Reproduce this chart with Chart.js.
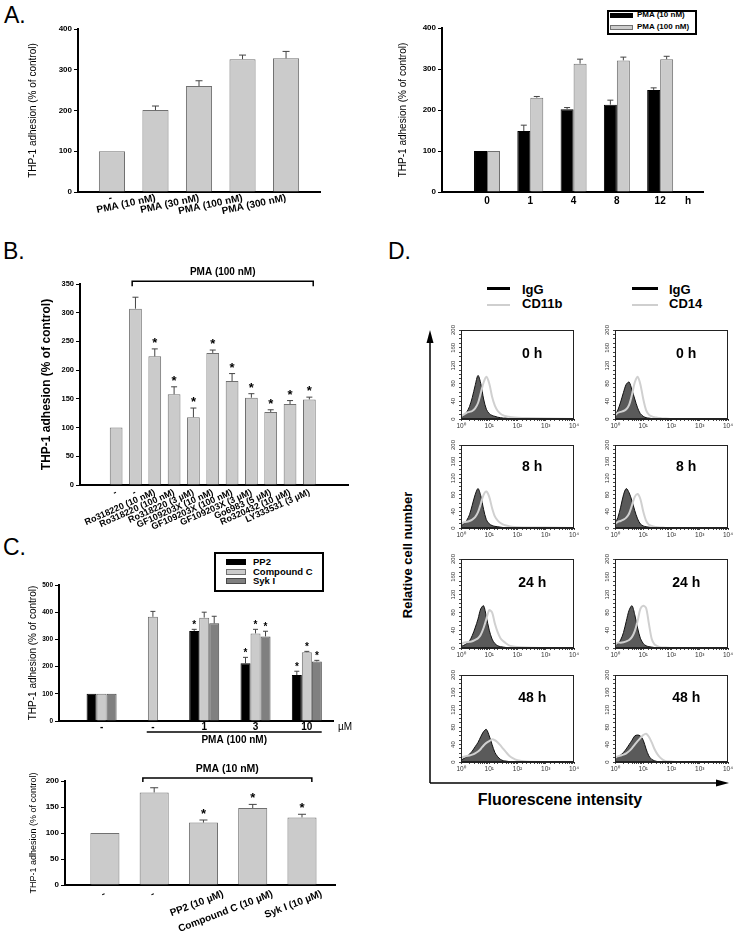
<!DOCTYPE html>
<html><head><meta charset="utf-8">
<script src="https://cdn.jsdelivr.net/npm/chart.js@4.4.1/dist/chart.umd.min.js"></script>
<style>
body{margin:0;background:#fff;}
#page{position:relative;width:737px;height:946px;overflow:hidden;background:#fff;font-family:"Liberation Sans",Arial,sans-serif;color:#000;}
canvas{position:absolute;}
.t{position:absolute;white-space:nowrap;line-height:1;}
</style></head>
<body><div id="page">
<div class="t" style="left:4px;top:3.5px;font-size:23px;">A.</div>
<div class="t" style="left:3px;top:239.5px;font-size:23px;">B.</div>
<div class="t" style="left:3px;top:535.5px;font-size:23px;">C.</div>
<div class="t" style="left:388px;top:239.5px;font-size:23px;">D.</div>

<div style="position:absolute;left:487px;top:287px;width:23px;height:2.5px;background:#000"></div>
<div class="t" style="left:522px;top:282.5px;font-size:13px;font-weight:bold;">IgG</div>
<div style="position:absolute;left:487px;top:303.5px;width:23px;height:2.5px;background:#cfcfcf"></div>
<div class="t" style="left:522px;top:297px;font-size:13px;font-weight:bold;">CD11b</div>
<div style="position:absolute;left:632px;top:287px;width:26px;height:2.5px;background:#000"></div>
<div class="t" style="left:669px;top:282.5px;font-size:13px;font-weight:bold;">IgG</div>
<div style="position:absolute;left:632px;top:303.5px;width:26px;height:2.5px;background:#cfcfcf"></div>
<div class="t" style="left:669px;top:297px;font-size:13px;font-weight:bold;">CD14</div>

<svg style="position:absolute;left:0;top:0" width="737" height="946">
 <line x1="430" y1="340" x2="430" y2="783" stroke="#000" stroke-width="1.5"/>
 <polygon points="430,330 426.5,343 433.5,343" fill="#000"/>
 <line x1="430" y1="783" x2="718" y2="783" stroke="#000" stroke-width="1.5"/>
 <polygon points="729,783 716,779.5 716,786.5" fill="#000"/>
</svg>
<div class="t" style="left:407px;top:555px;font-size:13px;font-weight:bold;transform:translate(-50%,-50%) rotate(-90deg);">Relative cell number</div>
<div class="t" style="left:560px;top:800px;font-size:16px;font-weight:bold;transform:translate(-50%,-50%);">Fluorescene intensity</div>
</div>
<script>
// ---------------- DATA ----------------
// A (left): dose response
const aDoseLabels = ['-', 'PMA (10 nM)', 'PMA (30 nM)', 'PMA (100 nM)', 'PMA (300 nM)'];
const aDoseValues = [100, 201, 260, 326, 328];
const aDoseErrors = [0, 10, 13, 10, 17];

// A (right): time course
const aTimeLabels = ['0', '1', '4', '8', '12'];
const aTimePma10 = [100, 149, 202, 213, 249];
const aTimePma10Err = [0, 14, 4, 11, 5];
const aTimePma100 = [100, 230, 313, 321, 324];
const aTimePma100Err = [0, 3, 11, 8, 7];

// B: PKC inhibitors
const bLabels = ['-', '-', 'Ro318220 (10 nM)', 'Ro318220 (100 nM)', 'Ro318220 (3 \u00b5M)',
  'GF109203X (10 nM)', 'GF109203X (100 nM)', 'GF109203X (3 \u00b5M)', 'Go6983 (5 \u00b5M)',
  'Ro320432 (10 \u00b5M)', 'LY333531 (3 \u00b5M)'];
const bValues = [100, 307, 224, 158, 118, 230, 181, 152, 127, 141, 149];
const bErrors = [0, 20, 13, 13, 16, 5, 13, 7, 4, 6, 4];
const bStars = [0, 0, 1, 1, 1, 1, 1, 1, 1, 1, 1];

// C (top): PP2 / Compound C / Syk I with PMA 100 nM
const cTopLabels = ['-', '-', '1', '3', '10'];
const cPP2 = [100, null, 331, 212, 169];
const cPP2Err = [0, 0, 6, 22, 14];
const cPP2Stars = [0, 0, 1, 1, 1];
const cCompC = [100, 383, 380, 322, 253];
const cCompCErr = [0, 20, 20, 15, 3];
const cCompCStars = [0, 0, 0, 1, 1];
const cSyk = [100, null, 359, 311, 219];
const cSykErr = [0, 0, 26, 19, 4];
const cSykStars = [0, 0, 0, 1, 1];

// C (bottom): PMA 10 nM
const cBotLabels = ['-', '-', 'PP2 (10 \u00b5M)', 'Compound C (10 \u00b5M)', 'Syk I (10 \u00b5M)'];
const cBotValues = [100, 178, 120, 148, 130];
const cBotErrors = [0, 9, 5, 7, 6];
const cBotStars = [0, 0, 1, 1, 1];

// D: flow cytometry histograms (fluorescence grid, counts)
const hX = [1, 1.26, 1.58, 2, 2.5, 3.16, 4, 5, 6.3, 7.9, 10, 12.6, 15.8, 20, 25, 31.6, 40, 50, 63, 100, 200, 1000, 10000];
const igg11b_0h = [4, 8, 15, 28, 48, 75, 98, 80, 45, 22, 12, 8, 6, 4, 3, 2, 2, 1, 1, 0, 0, 0, 0];
const cd11b_0h  = [6, 10, 14, 16, 18, 24, 36, 58, 82, 95, 80, 50, 30, 18, 12, 8, 6, 5, 4, 3, 2, 1, 0];
const igg14_0h  = [8, 20, 38, 60, 78, 83, 65, 45, 25, 12, 6, 3, 2, 1, 1, 0, 0, 0, 0, 0, 0, 0, 0];
const cd14_0h   = [8, 14, 16, 18, 22, 32, 55, 82, 95, 78, 45, 20, 10, 6, 4, 3, 2, 1, 1, 0, 0, 0, 0];
const igg11b_8h = [6, 10, 18, 32, 55, 80, 95, 78, 45, 20, 10, 6, 4, 3, 2, 1, 1, 0, 0, 0, 0, 0, 0];
const cd11b_8h  = [10, 14, 15, 17, 20, 26, 38, 58, 80, 88, 75, 48, 28, 18, 12, 8, 6, 4, 3, 2, 1, 1, 0];
const igg14_8h  = [10, 25, 50, 80, 95, 85, 65, 42, 22, 10, 5, 3, 2, 1, 0, 0, 0, 0, 0, 0, 0, 0, 0];
const cd14_8h   = [10, 15, 17, 20, 25, 35, 55, 75, 82, 70, 40, 18, 8, 5, 3, 2, 1, 1, 0, 0, 0, 0, 0];
const igg11b_24h = [4, 6, 10, 16, 28, 45, 65, 88, 95, 70, 40, 20, 10, 5, 3, 2, 1, 1, 0, 0, 0, 0, 0];
const cd11b_24h  = [8, 12, 13, 14, 15, 18, 22, 30, 45, 65, 85, 80, 55, 35, 22, 15, 10, 6, 4, 2, 1, 0, 0];
const igg14_24h  = [6, 10, 18, 35, 60, 85, 95, 75, 45, 22, 10, 5, 3, 2, 1, 0, 0, 0, 0, 0, 0, 0, 0];
const cd14_24h   = [8, 12, 12, 13, 15, 18, 25, 38, 60, 88, 95, 90, 55, 20, 8, 4, 2, 1, 1, 0, 0, 0, 0];
const igg11b_48h = [4, 8, 12, 18, 25, 35, 45, 58, 70, 75, 60, 40, 22, 12, 6, 3, 2, 1, 1, 0, 0, 0, 0];
const cd11b_48h  = [10, 12, 14, 15, 17, 20, 24, 30, 38, 44, 48, 52, 50, 45, 38, 30, 22, 15, 10, 4, 1, 0, 0];
const igg14_48h  = [8, 12, 16, 22, 30, 40, 50, 60, 62, 60, 50, 30, 14, 6, 3, 1, 1, 0, 0, 0, 0, 0, 0];
const cd14_48h   = [10, 13, 15, 17, 20, 25, 32, 40, 48, 55, 62, 65, 58, 45, 30, 18, 10, 5, 2, 1, 0, 0, 0];
const timeLabels = ['0 h', '8 h', '24 h', '48 h'];

// ---------------- SETUP ----------------
const FAM = '"Liberation Sans", Arial, sans-serif';
Chart.defaults.font.family = FAM;
Chart.defaults.color = '#000';
Chart.defaults.animation = false;
Chart.defaults.plugins.legend.display = false;
Chart.defaults.plugins.tooltip.enabled = false;
const page = document.getElementById('page');

function mkCanvas(x, y, w, h) {
  const c = document.createElement('canvas');
  c.width = w; c.height = h;
  Object.assign(c.style, {left: x + 'px', top: y + 'px', width: w + 'px', height: h + 'px'});
  page.appendChild(c);
  return c;
}

const errorBars = {
  id: 'errorBars',
  afterDatasetsDraw(chart, args, o) {
    const ctx = chart.ctx, ys = chart.scales.y;
    chart.data.datasets.forEach((ds, di) => {
      const meta = chart.getDatasetMeta(di);
      meta.data.forEach((bar, i) => {
        const v = ds.data[i].y;
        if (v == null) return;
        const e = ds.errors ? ds.errors[i] : 0;
        const top = ys.getPixelForValue(v + (e || 0));
        ctx.save();
        if (e) {
          ctx.strokeStyle = '#444'; ctx.lineWidth = 1;
          ctx.beginPath();
          ctx.moveTo(bar.x, bar.y); ctx.lineTo(bar.x, top);
          ctx.moveTo(bar.x - o.cap, top); ctx.lineTo(bar.x + o.cap, top);
          ctx.stroke();
        }
        if (ds.stars && ds.stars[i]) {
          ctx.fillStyle = '#000';
          ctx.font = 'bold ' + o.star + 'px ' + FAM;
          ctx.textAlign = 'center'; ctx.textBaseline = 'alphabetic';
          ctx.fillText('*', bar.x, top - o.starGap);
        }
        ctx.restore();
      });
    });
  }
};

const bracket = {
  id: 'bracket',
  afterDraw(chart, args, o) {
    if (!o || !o.text) return;
    const ctx = chart.ctx, xs = chart.scales.x, ys = chart.scales.y;
    const x1 = xs.getPixelForValue(o.from), x2 = xs.getPixelForValue(o.to);
    const y = ys.getPixelForValue(o.at);
    ctx.save();
    ctx.strokeStyle = '#000'; ctx.lineWidth = 1.5;
    ctx.beginPath();
    ctx.moveTo(x1, y + o.tick); ctx.lineTo(x1, y); ctx.lineTo(x2, y); ctx.lineTo(x2, y + o.tick);
    ctx.stroke();
    ctx.fillStyle = '#000'; ctx.font = 'bold ' + o.size + 'px ' + FAM;
    ctx.textAlign = 'center'; ctx.textBaseline = 'bottom';
    ctx.fillText(o.text, (x1 + x2) / 2, y - o.gap);
    ctx.restore();
  }
};

const underLine = {
  id: 'underLine',
  afterDraw(chart, args, o) {
    if (!o || !o.text) return;
    const ctx = chart.ctx, xs = chart.scales.x;
    const x1 = xs.getPixelForValue(o.from), x2 = xs.getPixelForValue(o.to);
    const y = chart.chartArea.bottom + o.dy;
    ctx.save();
    ctx.strokeStyle = '#000'; ctx.lineWidth = 1.5;
    ctx.beginPath(); ctx.moveTo(x1, y); ctx.lineTo(x2, y); ctx.stroke();
    ctx.fillStyle = '#000'; ctx.font = 'bold ' + o.size + 'px ' + FAM;
    ctx.textAlign = 'center'; ctx.textBaseline = 'top';
    ctx.fillText(o.text, (x1 + x2) / 2, y + o.gap);
    ctx.restore();
  }
};

const unitLabel = {
  id: 'unitLabel',
  afterDraw(chart, args, o) {
    if (!o || !o.text) return;
    const ctx = chart.ctx, ca = chart.chartArea;
    ctx.save();
    ctx.fillStyle = '#000'; ctx.font = o.font;
    ctx.textAlign = 'center'; ctx.textBaseline = 'middle';
    ctx.fillText(o.text, ca.right + o.dx, ca.bottom + o.dy);
    ctx.restore();
  }
};

function barChart(p) {
  const c = mkCanvas(p.box.x, p.box.y, p.box.w, p.box.h);
  const shiftFrom = p.shiftFrom == null ? 99 : p.shiftFrom;
  return new Chart(c, {
    type: 'bar',
    data: {
      datasets: p.datasets.map(d => ({
        label: d.label,
        data: d.values.map((v, i) => ({x: i, y: v})),
        errors: d.errors, stars: d.stars,
        backgroundColor: d.color, borderColor: d.border, borderWidth: 1,
        barPercentage: p.barPct, categoryPercentage: p.catPct
      }))
    },
    options: {
      responsive: false, devicePixelRatio: 1,
      layout: {padding: {left: 0, top: p.area.t - p.box.y, right: p.box.x + p.box.w - p.area.r, bottom: 0}},
      scales: {
        x: {
          type: 'linear', min: p.xMin, max: p.xMax, offset: false,
          afterFit: s => { s.height = p.box.y + p.box.h - p.area.b; },
          afterBuildTicks: s => { s.ticks = p.labels.map((_, i) => ({value: i + (i >= shiftFrom ? p.shift : 0)})); },
          grid: {display: false, drawTicks: false, offset: false},
          border: {display: true, color: '#000', width: 2},
          ticks: {autoSkip: false, minRotation: p.rot, maxRotation: p.rot, font: p.xFont, padding: p.xPad,
                  callback: (v, idx) => p.labels[idx]}
        },
        y: {
          min: 0, max: p.yMax,
          afterFit: s => { s.width = p.area.l - p.box.x; },
          ticks: {stepSize: p.yStep, font: p.yFont, padding: 2},
          grid: {display: true, drawOnChartArea: false, drawTicks: true, tickLength: 4, color: '#000', lineWidth: 1},
          border: {display: true, color: '#000', width: 2},
          title: {display: true, text: 'THP-1 adhesion (% of control)', font: p.titleFont, padding: {top: 0, bottom: 0}}
        }
      },
      plugins: {
        errorBars: p.err,
        bracket: p.bracket || {},
        underLine: p.under || {},
        unitLabel: p.unit || {}
      }
    },
    plugins: [errorBars, bracket, underLine, unitLabel]
  });
}

function boxLegend(chart, b) {
  const d = document.createElement('div');
  Object.assign(d.style, {position: 'absolute', left: b.x + 'px', top: b.y + 'px', width: b.w + 'px', height: b.h + 'px',
    border: '2px solid #000', boxSizing: 'border-box', background: '#fff'});
  chart.data.datasets.forEach((ds, i) => {
    const cy = b.rows[i] - b.y - 2;
    const sw = document.createElement('div');
    Object.assign(sw.style, {position: 'absolute', left: (b.sx - b.x - 2) + 'px', top: (cy - b.sh / 2) + 'px',
      width: b.sw + 'px', height: b.sh + 'px', background: ds.backgroundColor, border: '1px solid ' + ds.borderColor, boxSizing: 'border-box'});
    const t = document.createElement('div');
    Object.assign(t.style, {position: 'absolute', left: (b.tx - b.x - 2) + 'px', top: (cy - b.fs * 0.6) + 'px',
      font: 'bold ' + b.fs + 'px ' + FAM, lineHeight: (b.fs * 1.2) + 'px', whiteSpace: 'nowrap'});
    t.textContent = ds.label;
    d.append(sw, t);
  });
  page.appendChild(d);
}

const GRAY = '#cbcbcb', GRAYB = '#707070';

// ---------- A left ----------
barChart({
  box: {x: 27, y: 0, w: 303, h: 240}, area: {l: 78, t: 29, r: 320, b: 192},
  labels: aDoseLabels, xMin: -0.78, xMax: 4.78, rot: 12, xPad: 0,
  xFont: {size: 10, weight: 'bold'}, yFont: {size: 8, weight: 'bold'},
  titleFont: {size: 10}, yMax: 400, yStep: 100, barPct: 0.6, catPct: 1,
  datasets: [{label: 'PMA', values: aDoseValues, errors: aDoseErrors, color: GRAY, border: GRAYB}],
  err: {cap: 3.5, star: 13, starGap: 2}
});

// ---------- A right ----------
const aRight = barChart({
  box: {x: 397, y: 0, w: 316, h: 240}, area: {l: 442, t: 28, r: 703, b: 192},
  labels: aTimeLabels, xMin: -1.04, xMax: 4.99, rot: 0, xPad: 3,
  xFont: {size: 10, weight: 'bold'}, yFont: {size: 8, weight: 'bold'},
  titleFont: {size: 10}, yMax: 400, yStep: 100, barPct: 1, catPct: 0.6,
  datasets: [
    {label: 'PMA (10 nM)', values: aTimePma10, errors: aTimePma10Err, color: '#000', border: '#000'},
    {label: 'PMA (100 nM)', values: aTimePma100, errors: aTimePma100Err, color: GRAY, border: GRAYB}
  ],
  err: {cap: 3, star: 13, starGap: 2},
  unit: {text: 'h', font: 'bold 10px ' + FAM, dx: -15, dy: 9}
});
boxLegend(aRight, {x: 607, y: 10, w: 90, h: 25, rows: [15, 27], sx: 610, sw: 23, sh: 5, tx: 637, fs: 8});

// ---------- B ----------
barChart({
  box: {x: 39, y: 262, w: 319, h: 283}, area: {l: 80, t: 284, r: 348, b: 485},
  labels: bLabels, xMin: -1.87, xMax: 12.0, rot: 24, xPad: 2,
  xFont: {size: 9, weight: 'bold'}, yFont: {size: 7.5, weight: 'bold'},
  titleFont: {size: 12, weight: 'bold'}, yMax: 350, yStep: 50, barPct: 0.66, catPct: 1,
  datasets: [{label: 'PMA', values: bValues, errors: bErrors, stars: bStars, color: GRAY, border: GRAYB}],
  err: {cap: 3, star: 13, starGap: 2},
  bracket: {text: 'PMA (100 nM)', from: 0.83, to: 10.2, at: 355, tick: 5, gap: 4, size: 10}
});

// ---------- C top ----------
const cTop = barChart({
  box: {x: 27, y: 540, w: 331, h: 210}, area: {l: 59, t: 585, r: 333, b: 721},
  labels: cTopLabels, xMin: -0.83, xMax: 4.51, rot: 0, xPad: 0,
  xFont: {size: 10, weight: 'bold'}, yFont: {size: 6.5, weight: 'bold'},
  titleFont: {size: 10}, yMax: 500, yStep: 100, barPct: 1, catPct: 0.585,
  datasets: [
    {label: 'PP2', values: cPP2, errors: cPP2Err, stars: cPP2Stars, color: '#000', border: '#000'},
    {label: 'Compound C', values: cCompC, errors: cCompCErr, stars: cCompCStars, color: GRAY, border: GRAYB},
    {label: 'Syk I', values: cSyk, errors: cSykErr, stars: cSykStars, color: '#808080', border: '#4a4a4a'}
  ],
  err: {cap: 2.5, star: 10, starGap: 1},
  under: {text: 'PMA (100 nM)', from: 0.88, to: 4.29, dy: 11, gap: 3, size: 10},
  unit: {text: '\u00b5M', font: '10px ' + FAM, dx: 12, dy: 6}
});
boxLegend(cTop, {x: 214, y: 552, w: 110, h: 40, rows: [561.7, 571.7, 581], sx: 226, sw: 20, sh: 6, tx: 253, fs: 9.5});

// ---------- C bottom ----------
barChart({
  box: {x: 28, y: 755, w: 317, h: 191}, area: {l: 65, t: 781, r: 335, b: 885},
  labels: cBotLabels, xMin: -0.81, xMax: 4.67, rot: 21, xPad: 3, shiftFrom: 2, shift: 0.4,
  xFont: {size: 10, weight: 'bold'}, yFont: {size: 8, weight: 'bold'},
  titleFont: {size: 9}, yMax: 200, yStep: 50, barPct: 0.59, catPct: 1,
  datasets: [{label: 'PMA', values: cBotValues, errors: cBotErrors, stars: cBotStars, color: GRAY, border: GRAYB}],
  err: {cap: 4, star: 13, starGap: 2},
  bracket: {text: 'PMA (10 nM)', from: 0.77, to: 4.2, at: 206, tick: 4, gap: 4, size: 10.5}
});

// ---------- D histograms ----------
const frame = {
  id: 'frame',
  afterDraw(chart, args, o) {
    const ctx = chart.ctx, ca = chart.chartArea;
    ctx.save();
    ctx.strokeStyle = '#222'; ctx.lineWidth = 1;
    ctx.strokeRect(ca.left + 0.5, ca.top + 0.5, ca.right - ca.left - 1, ca.bottom - ca.top - 1);
    if (o && o.text) {
      ctx.fillStyle = '#000'; ctx.font = 'bold 14px ' + FAM;
      ctx.textAlign = 'center'; ctx.textBaseline = 'middle';
      ctx.fillText(o.text, ca.left + 0.63 * (ca.right - ca.left), ca.top + 0.27 * (ca.bottom - ca.top));
    }
    ctx.restore();
  }
};
const SUP = ['\u2070', '\u00b9', '\u00b2', '\u00b3', '\u2074'];
function histChart(area, igg, cd, label) {
  const box = {x: area.l - 24, y: area.t - 5, w: area.r - area.l + 34, h: area.b - area.t + 21};
  const c = mkCanvas(box.x, box.y, box.w, box.h);
  return new Chart(c, {
    type: 'line',
    data: {datasets: [
      {label: 'CD', data: hX.map((x, i) => ({x, y: cd[i]})), borderColor: '#d0d0d0', borderWidth: 2,
       pointRadius: 0, fill: false, tension: 0.3, order: 0},
      {label: 'IgG', data: hX.map((x, i) => ({x, y: igg[i]})), borderColor: '#111', borderWidth: 1,
       backgroundColor: '#5a5a5a', fill: 'origin', pointRadius: 0, tension: 0.3, order: 1}
    ]},
    options: {
      responsive: false, devicePixelRatio: 1,
      layout: {padding: {left: 0, top: 5, right: 10, bottom: 0}},
      scales: {
        x: {type: 'logarithmic', min: 1, max: 10000,
            afterFit: s => { s.height = 16; },
            ticks: {autoSkip: false, minRotation: 0, maxRotation: 0, font: {size: 6.5}, color: '#333', padding: 1,
                    callback: v => { const e = Math.log10(v); return Math.abs(e - Math.round(e)) < 1e-6 ? '10' + SUP[Math.round(e)] : ''; }},
            grid: {display: true, drawOnChartArea: false, tickLength: 2, color: '#444'},
            border: {display: true, color: '#222', width: 1}},
        y: {min: 0, max: 200,
            afterFit: s => { s.width = 24; },
            ticks: {stepSize: 10, autoSkip: false, minRotation: 90, maxRotation: 90, crossAlign: 'center', font: {size: 6}, color: '#333', padding: 1,
                    callback: v => (v % 40 === 0 ? String(v) : '')},
            grid: {display: true, drawOnChartArea: false, tickLength: 2, color: '#444'},
            border: {display: true, color: '#222', width: 1}}
      },
      plugins: {frame: {text: label}}
    },
    plugins: [frame]
  });
}
const colL = [461, 574], colR = [615, 728];
const rows = [[330, 419], [445, 528], [559, 648], [675, 762]];
const left = [[igg11b_0h, cd11b_0h], [igg11b_8h, cd11b_8h], [igg11b_24h, cd11b_24h], [igg11b_48h, cd11b_48h]];
const right = [[igg14_0h, cd14_0h], [igg14_8h, cd14_8h], [igg14_24h, cd14_24h], [igg14_48h, cd14_48h]];
rows.forEach((r, i) => {
  histChart({l: colL[0], r: colL[1], t: r[0], b: r[1]}, left[i][0], left[i][1], timeLabels[i]);
  histChart({l: colR[0], r: colR[1], t: r[0], b: r[1]}, right[i][0], right[i][1], timeLabels[i]);
});
</script>
</body></html>
